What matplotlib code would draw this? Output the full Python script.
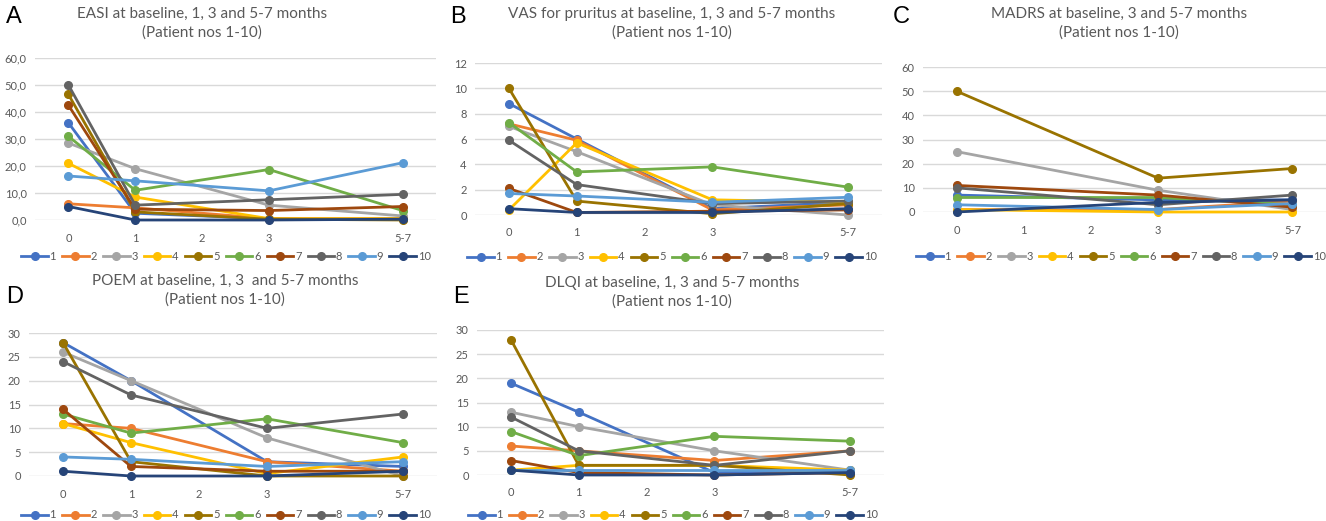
import numpy as np
import matplotlib.pyplot as plt

plt.rcParams['font.family'] = ['Lato', 'DejaVu Sans']

patients = [str(i) for i in range(1, 11)]
colors = ['#4472C4', '#ED7D31', '#A5A5A5', '#FFC000', '#997300',
          '#70AD47', '#9E480E', '#636363', '#5B9BD5', '#264478']

x4 = [0, 1, 3, 5]
x3 = [0, 3, 5]
xticks = [0, 1, 2, 3, 5]
xticklabels = ['0', '1', '2', '3', '5-7']

easi = [
    [36, 2.5, 0.5, 0.5],
    [6, 4.5, 0.5, 0.5],
    [28.5, 19, 5.5, 1.5],
    [21, 8.5, 0.5, 0.5],
    [46.5, 3, 0.3, 0],
    [31, 11, 18.7, 3.5],
    [42.5, 4, 3.5, 5],
    [50, 5.5, 7.5, 9.5],
    [16.3, 14.5, 10.8, 21.2],
    [5, 0, 0, 0.3],
]
vas = [
    [8.8, 6, 0.5, 1],
    [7.2, 5.9, 0.4, 0.8],
    [7, 5, 0.8, 0],
    [0.4, 5.7, 1.2, 1],
    [10, 1.1, 0.1, 0.9],
    [7.3, 3.4, 3.8, 2.2],
    [2.1, 0.2, 0.3, 0.4],
    [5.9, 2.4, 0.9, 1.1],
    [1.7, 1.5, 1.0, 1.4],
    [0.5, 0.2, 0.2, 0.5],
]
madrs = [
    [7, 5, 5],
    [1, 1, 4.5],
    [25, 9, 1],
    [1, 0, 0],
    [50, 14, 18],
    [6, 6, 3],
    [11, 7, 2],
    [10, 3, 7],
    [3, 1, 3.5],
    [0, 4, 5],
]
poem = [
    [28, 20, 3, 2],
    [11, 10, 3, 1],
    [26, 20, 8, 0],
    [11, 7, 0.5, 4],
    [28, 3, 0, 0],
    [13, 9, 12, 7],
    [14, 2, 1, 1],
    [24, 17, 10, 13],
    [4, 3.5, 2, 3],
    [1, 0, 0, 1],
]
dlqi = [
    [19, 13, 0.5, 1],
    [6, 5, 3, 5],
    [13, 10, 5, 1],
    [1, 2, 2, 1],
    [28, 2, 2, 0],
    [9, 4, 8, 7],
    [3, 0.5, 0, 0.5],
    [12, 5, 2, 5],
    [1, 1, 1, 1],
    [1, 0, 0, 0.5],
]

W, H = 1326, 521
fig = plt.figure(figsize=(W / 100, H / 100), dpi=100)
fig.patch.set_facecolor('white')


def px_axes(x0, x1, ybot, ytop):
    return fig.add_axes([x0 / W, 1 - ybot / H, (x1 - x0) / W, (ybot - ytop) / H])


def panel(ax, xs, data, ymax, ystep, title, letter, letter_xy, title_xy, legend_xy, comma=False):
    for i, vals in enumerate(data):
        ax.plot(xs, vals, color=colors[i], lw=2, marker='o', ms=5.5,
                label=patients[i], clip_on=False, zorder=3)
    ax.set_xlim(-0.5, 5.5)
    ax.set_ylim(0, ymax)
    yt = np.arange(0, ymax + ystep / 2, ystep)
    ax.set_yticks(yt)
    if comma:
        ax.set_yticklabels([('%.1f' % v).replace('.', ',') for v in yt])
    ax.set_xticks(xticks)
    ax.set_xticklabels(xticklabels)
    ax.grid(axis='y', color='#D9D9D9', lw=1)
    ax.set_axisbelow(True)
    for s in ax.spines.values():
        s.set_visible(False)
    ax.tick_params(length=0, labelsize=8, labelcolor='#595959', pad=6)
    ax.tick_params(axis='x', pad=9)
    fig.text(title_xy[0] / W, 1 - title_xy[1] / H, title, ha='center', va='top',
             fontsize=11, color='#595959', linespacing=1.35)
    fig.text(letter_xy[0] / W, 1 - letter_xy[1] / H, letter, ha='left', va='top',
             fontsize=17, color='black', family=['Liberation Sans', 'DejaVu Sans'])
    leg = fig.legend(*ax.get_legend_handles_labels(), ncol=10, loc='center', frameon=False,
                     fontsize=8, bbox_to_anchor=(legend_xy[0] / W, 1 - legend_xy[1] / H),
                     handlelength=2.4, handletextpad=0.15, columnspacing=0.55,
                     borderpad=0, borderaxespad=0)
    for t in leg.get_texts():
        t.set_color('#595959')


axA = px_axes(35, 436, 220, 58)
panel(axA, x4, easi, 60, 10, 'EASI at baseline, 1, 3 and 5-7 months\n(Patient nos 1-10)',
      'A', (6, 6), (202, 7), (226, 256), comma=True)

axB = px_axes(475, 882, 215, 63)
panel(axB, x4, vas, 12, 2, 'VAS for pruritus at baseline, 1, 3 and 5-7 months\n(Patient nos 1-10)',
      'B', (450, 6), (672, 7), (672, 257))

axC = px_axes(923, 1326, 212, 67)
panel(axC, x3, madrs, 60, 10, 'MADRS at baseline, 3 and 5-7 months\n(Patient nos 1-10)',
      'C', (893, 6), (1119, 7), (1121, 256))

axD = px_axes(29, 437, 476, 333)
panel(axD, x4, poem, 30, 5, 'POEM at baseline, 1, 3  and 5-7 months\n(Patient nos 1-10)',
      'D', (6, 286), (225, 274), (226, 515))

axE = px_axes(477, 884, 475, 330)
panel(axE, x4, dlqi, 30, 5, 'DLQI at baseline, 1, 3 and 5-7 months\n(Patient nos 1-10)',
      'E', (453, 286), (672, 276), (673, 515))

fig.savefig('out.png', dpi=100)
